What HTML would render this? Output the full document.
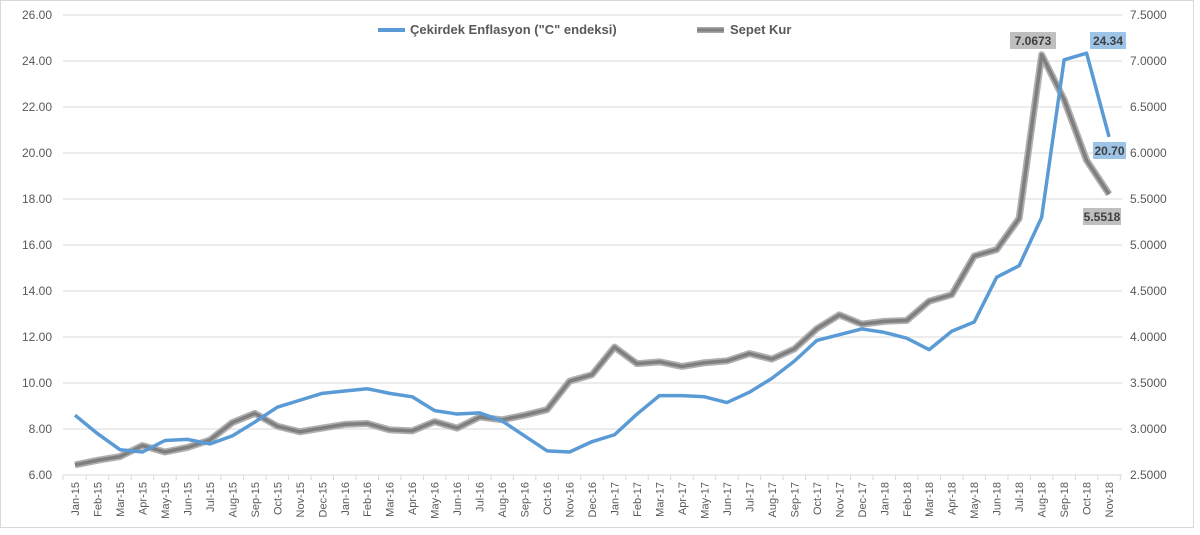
<!DOCTYPE html>
<html><head><meta charset="utf-8"><style>
body{margin:0;background:#fff;}
svg{display:block;font-family:"Liberation Sans",sans-serif;}
</style></head><body>
<svg id="s" width="1200" height="535" xmlns="http://www.w3.org/2000/svg">
<rect x="0.5" y="0.5" width="1193" height="527" fill="#fff" stroke="#d9d9d9"/>
<g id="g"></g>
<text x="410" y="34" font-size="13" font-weight="bold" fill="#595959">Çekirdek Enflasyon ("C" endeksi)</text>
<line x1="378" y1="30" x2="405" y2="30" stroke="#5b9bd5" stroke-width="4"/>
<line x1="697" y1="30" x2="724" y2="30" stroke="#a6a6a6" stroke-width="6"/>
<line x1="697" y1="30" x2="724" y2="30" stroke="#808080" stroke-width="3"/>
<text x="730" y="34" font-size="13" font-weight="bold" fill="#595959">Sepet Kur</text>
</svg>
<script>
var g=document.getElementById('g'),h='';
var blue=[8.6,7.8,7.1,7.0,7.5,7.55,7.35,7.7,8.3,8.95,9.25,9.55,9.65,9.75,9.55,9.4,8.8,8.65,8.7,8.35,7.7,7.05,7.0,7.45,7.75,8.65,9.45,9.45,9.4,9.15,9.6,10.2,10.95,11.85,12.1,12.35,12.2,11.95,11.45,12.25,12.65,14.6,15.1,17.2,24.05,24.34,20.70];
var gray=[2.61,2.66,2.70,2.82,2.75,2.80,2.88,3.07,3.17,3.03,2.97,3.01,3.05,3.06,2.99,2.98,3.08,3.01,3.13,3.10,3.15,3.21,3.52,3.59,3.89,3.71,3.73,3.68,3.72,3.74,3.82,3.76,3.87,4.09,4.24,4.14,4.17,4.18,4.39,4.46,4.88,4.95,5.29,7.0673,6.58,5.92,5.5518];
var mon=['Jan','Feb','Mar','Apr','May','Jun','Jul','Aug','Sep','Oct','Nov','Dec'];
function X(i){return 75+i*22.48;}
for(var k=0;k<=10;k++){var v=6+2*k,y=475-(v-6)*23;
h+='<line x1="63" x2="1122" y1="'+y+'" y2="'+y+'" stroke="#d9d9d9"/>';
h+='<text x="52" y="'+(y+4)+'" font-size="12" fill="#595959" text-anchor="end">'+v.toFixed(2)+'</text>';
h+='<text x="1130" y="'+(y+4)+'" font-size="12" fill="#595959">'+(2.5+0.5*k).toFixed(4)+'</text>';}
for(var i=0;i<47;i++){var x=X(i);
h+='<line x1="'+(x+11.24)+'" x2="'+(x+11.24)+'" y1="475" y2="480" stroke="#d9d9d9"/>';
var lab=mon[i%12]+'-'+(15+Math.floor(i/12));
h+='<text transform="translate('+(x+4)+',482) rotate(-90)" font-size="11" fill="#595959" text-anchor="end">'+lab+'</text>';}
h+='<line x1="63" x2="63" y1="475" y2="480" stroke="#d9d9d9"/>';
var pg='',pb='';
for(var i=0;i<47;i++){pg+=X(i)+','+(475-(gray[i]-2.5)*92)+' ';pb+=X(i)+','+(475-(blue[i]-6)*23)+' ';}
h+='<polyline points="'+pg+'" fill="none" stroke="#b0b0b0" stroke-width="7" stroke-linejoin="round"/>';
h+='<polyline points="'+pg+'" fill="none" stroke="#7f7f7f" stroke-width="3.5" stroke-linejoin="round"/>';
h+='<polyline points="'+pb+'" fill="none" stroke="#5b9bd5" stroke-width="3.5" stroke-linejoin="round"/>';
function box(x,y,w,t,c){h+='<rect x="'+x+'" y="'+y+'" width="'+w+'" height="17" fill="'+c+'"/><text x="'+(x+w/2)+'" y="'+(y+13)+'" font-size="12" font-weight="bold" fill="#404040" text-anchor="middle">'+t+'</text>';}
box(1010,32,46,'7.0673','#bfbfbf');box(1090,32,36,'24.34','#9dc3e6');box(1093,142,33,'20.70','#9dc3e6');box(1083,208,38,'5.5518','#bfbfbf');
g.innerHTML=h;
</script>
</body></html>
